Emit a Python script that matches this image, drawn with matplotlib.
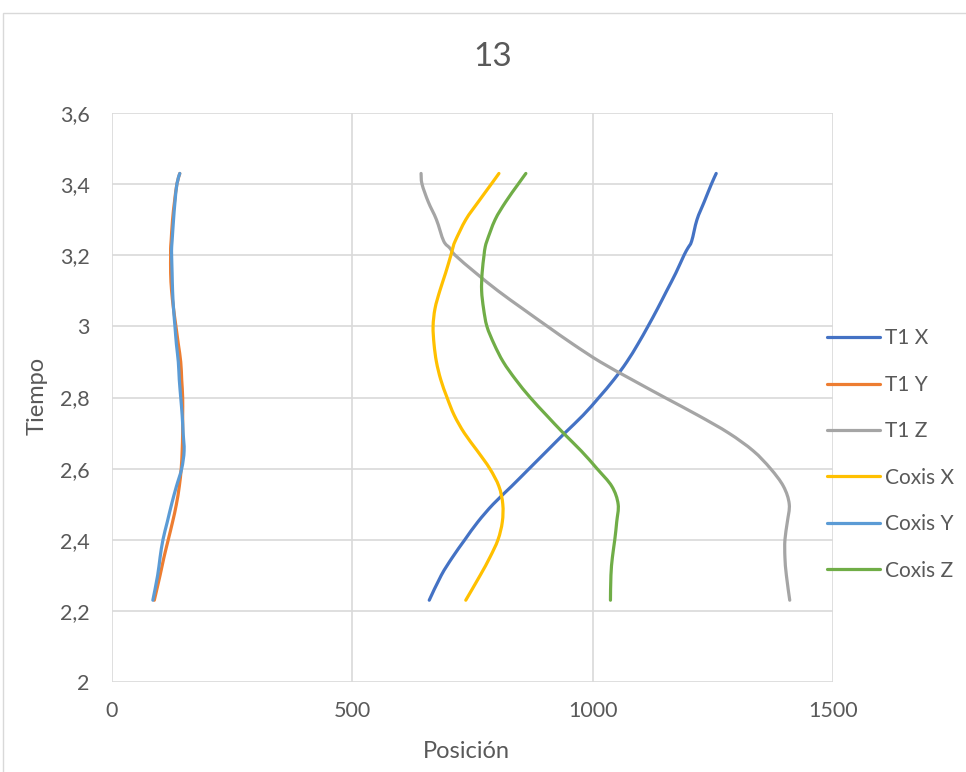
import matplotlib
matplotlib.use('Agg')
import matplotlib.pyplot as plt
from matplotlib.patches import Rectangle, PathPatch
from matplotlib.path import Path
from matplotlib.lines import Line2D

plt.rcParams['font.family'] = ['Lato', 'DejaVu Sans']

# time (s) shared by every series
tiempo = [2.23, 2.3, 2.35, 2.4, 2.45, 2.5, 2.55, 2.6, 2.65, 2.7, 2.75, 2.8, 2.85,
          2.9, 2.95, 3.0, 3.05, 3.1, 3.15, 3.2, 3.22, 3.24, 3.3, 3.35, 3.4, 3.43]

t1_x = [660, 685, 708, 734, 761, 793, 831, 868, 905, 942, 980, 1013, 1044,
        1071, 1094, 1115, 1135, 1154, 1173, 1190, 1198, 1206, 1217, 1232, 1247, 1257]
t1_y = [88, 100, 108, 117, 126, 134, 140, 144, 146, 147, 147, 147, 145,
        143, 138, 133, 128, 124, 122, 122, 122, 123, 126, 130, 135, 141]
t1_z = [1410, 1403, 1400, 1400, 1405, 1409, 1397, 1370, 1334, 1283, 1219, 1150, 1082,
        1016, 959, 906, 854, 803, 757, 714, 703, 690, 675, 658, 645, 643]
coxis_x = [736, 766, 786, 803, 812, 813, 805, 786, 760, 733, 712, 697, 684,
           675, 670, 668, 672, 682, 694, 705, 709, 714, 736, 762, 789, 805]
coxis_y = [85, 95, 100, 106, 115, 124, 134, 145, 150, 148, 146, 143, 140,
           138, 134, 131, 128, 126, 125, 124, 124, 125, 128, 131, 135, 141]
coxis_z = [1037, 1038, 1041, 1046, 1050, 1053, 1040, 1009, 976, 939, 904, 870, 840,
           814, 795, 780, 773, 769, 770, 774, 776, 780, 797, 819, 845, 861]

series = [('T1 X', t1_x, '#4472C4'), ('T1 Y', t1_y, '#ED7D31'), ('T1 Z', t1_z, '#A5A5A5'),
          ('Coxis X', coxis_x, '#FFC000'), ('Coxis Y', coxis_y, '#5B9BD5'),
          ('Coxis Z', coxis_z, '#70AD47')]

yticks = [2, 2.2, 2.4, 2.6, 2.8, 3, 3.2, 3.4, 3.6]
xticks = [0, 500, 1000, 1500]
txt = '#595959'


# smoothed line like Excel (Catmull-Rom as cubic bezier)
def smooth_path(xs, ys):
    pts = list(zip(xs, ys))
    verts = [pts[0]]
    codes = [Path.MOVETO]
    n = len(pts)
    for i in range(n - 1):
        p0 = pts[max(i - 1, 0)]
        p1 = pts[i]
        p2 = pts[i + 1]
        p3 = pts[min(i + 2, n - 1)]
        c1 = (p1[0] + (p2[0] - p0[0]) / 6, p1[1] + (p2[1] - p0[1]) / 6)
        c2 = (p2[0] - (p3[0] - p1[0]) / 6, p2[1] - (p3[1] - p1[1]) / 6)
        verts += [c1, c2, p2]
        codes += [Path.CURVE4] * 3
    return Path(verts, codes)


fig = plt.figure(figsize=(9.66, 7.72), dpi=100)
fig.patches.append(Rectangle((3 / 966, -0.1), 1.2, 1 - 13 / 772 + 0.1, transform=fig.transFigure,
                             fill=False, edgecolor='#D9D9D9', linewidth=1))
ax = fig.add_axes([112 / 966, 1 - 682 / 772, 721 / 966, 569 / 772])

handles = []
for name, vals, col in series:
    ax.add_patch(PathPatch(smooth_path(vals, tiempo), fill=False, edgecolor=col,
                           linewidth=2.3, capstyle='round', joinstyle='round'))
    handles.append(Line2D([], [], color=col, linewidth=2.3, solid_capstyle='round', label=name))

ax.set_xlim(0, 1500)
ax.set_ylim(2, 3.6)
ax.set_xticks(xticks)
ax.set_yticks(yticks)
ax.set_yticklabels([f'{v:g}'.replace('.', ',') for v in yticks])
ax.tick_params(length=0, labelsize=15.5, labelcolor=txt)
ax.tick_params(axis='x', pad=14)
ax.tick_params(axis='y', pad=16)
ax.grid(True, color='#D9D9D9', linewidth=1.2)
ax.set_axisbelow(True)
for s in ax.spines.values():
    s.set_visible(False)

fig.text(493 / 966, 1 - 57 / 772, '13', fontsize=24, color=txt, ha='center', va='center')
fig.text(466 / 966, 1 - 752 / 772, 'Posición', fontsize=17, color=txt, ha='center', va='center')
fig.text(37 / 966, 1 - 396 / 772, 'Tiempo', fontsize=17, color=txt, ha='center', va='center',
         rotation=90)

fig.legend(handles=handles, loc='center left', bbox_to_anchor=(827 / 966, 1 - 454.5 / 772),
           frameon=False, fontsize=15, labelcolor=txt, handlelength=2.55, handletextpad=0.25,
           labelspacing=1.27, borderpad=0, borderaxespad=0)

fig.savefig('out.png', dpi=100)
